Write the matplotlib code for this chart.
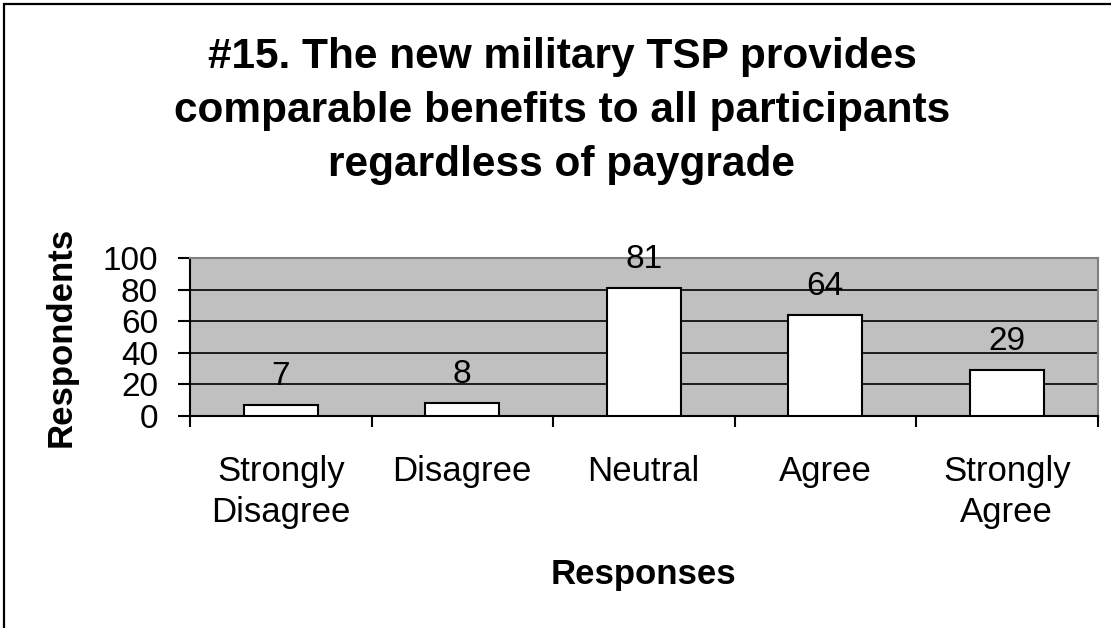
import matplotlib.pyplot as plt
import numpy as np
from matplotlib.patches import Rectangle

plt.rcParams['font.family'] = ['Liberation Sans', 'DejaVu Sans']

# Survey responses
categories = ['Strongly\nDisagree', 'Disagree', 'Neutral', 'Agree', 'Strongly\nAgree']
respondents = [7, 8, 81, 64, 29]
y_ticks = [0, 20, 40, 60, 80, 100]

fig = plt.figure(figsize=(11.11, 6.28), dpi=100)
W, H = 1111, 628

# outer frame (only top and left edges visible in the original)
fig.patches.append(Rectangle((4 / W, -0.1), 1.2, 1 - 4 / H + 0.1, transform=fig.transFigure,
                             fill=False, edgecolor='black', linewidth=1.6))

ax = fig.add_axes([190 / W, (H - 416) / H, (1097.5 - 190) / W, (416 - 258) / H])
ax.set_facecolor('#c0c0c0')

x = np.arange(len(categories)) + 0.5
ax.bar(x, respondents, width=0.41, color='white', edgecolor='black', linewidth=1.5, zorder=3)

for xi, v in zip(x, respondents):
    ax.annotate(str(v), (xi, v), xytext=(0, 20), textcoords='offset pixels',
                ha='center', va='baseline', fontsize=24, zorder=4)

ax.set_xlim(0, len(categories))
ax.set_ylim(0, 100)
ax.set_yticks(y_ticks)
ax.tick_params(axis='y', labelsize=24, length=9, width=1.5, pad=14)
ax.yaxis.grid(True, color='black', linewidth=1.2, zorder=1)
ax.set_axisbelow(True)

# ticks at category boundaries, labels at centres
ax.set_xticks(np.arange(len(categories) + 1))
ax.set_xticklabels([])
ax.set_xticks(x, minor=True)
ax.set_xticklabels(categories, minor=True, fontsize=25, linespacing=1.32)
ax.tick_params(axis='x', which='major', length=8, width=1.5)
ax.tick_params(axis='x', which='minor', length=0, pad=28)

for s in ['top', 'right']:
    ax.spines[s].set_color('#808080')
    ax.spines[s].set_linewidth(1.5)
for s in ['left', 'bottom']:
    ax.spines[s].set_color('black')
    ax.spines[s].set_linewidth(1.5)

ax.set_xlabel('Responses', fontsize=25, fontweight='bold', labelpad=21)
ax.set_ylabel('Respondents', fontsize=25, fontweight='bold', labelpad=18)

fig.text(562 / W, 1 - 37 / H,
         '#15. The new military TSP provides\ncomparable benefits to all participants\nregardless of paygrade',
         ha='center', va='top', fontsize=30.5, fontweight='bold', linespacing=1.45)

fig.savefig('out.png', dpi=100)
